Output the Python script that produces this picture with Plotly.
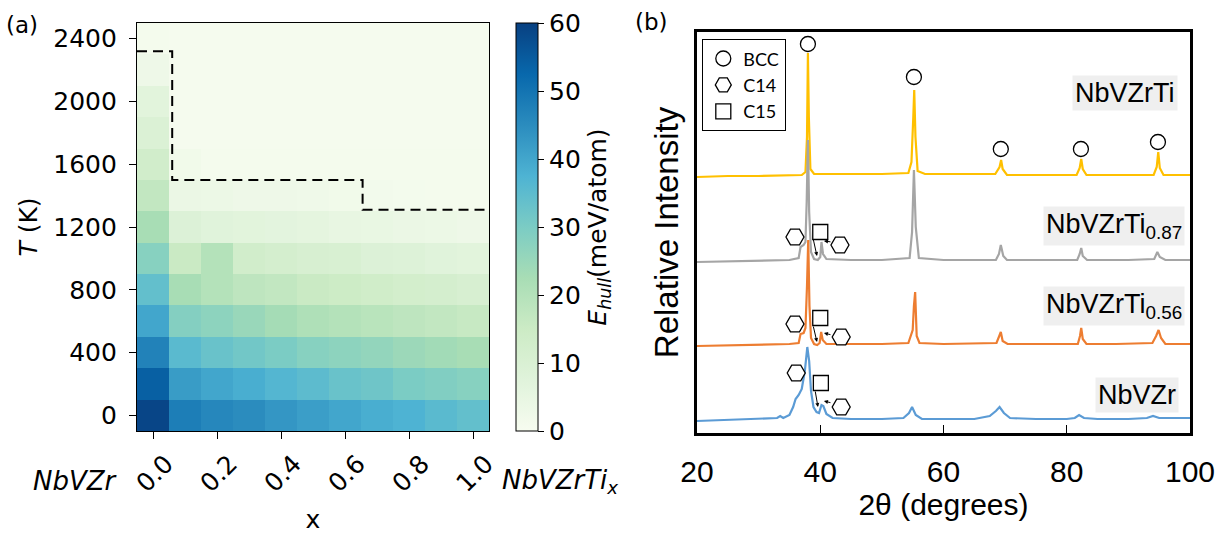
import plotly.graph_objects as go
import plotly.colors as pc

W, H = 1225, 534

# ---------------- Panel (a): E_hull heat map ----------------
x_frac = [0.0, 0.1, 0.2, 0.3, 0.4, 0.5, 0.6, 0.7, 0.8, 0.9, 1.0]
temps = [0, 200, 400, 600, 800, 1000, 1200, 1400, 1600, 1800, 2000, 2200, 2400]
ehull = [
    [59, 48, 46, 45, 43, 41.5, 40, 38.5, 37.5, 35.5, 34],
    [54, 42, 40, 38.5, 36.5, 35, 33, 32, 30, 29, 28],
    [47, 35.5, 33, 31.5, 30, 28, 27, 26, 24.5, 23.5, 22.5],
    [40, 28.5, 27, 25, 23, 21, 20, 19, 18, 17, 16],
    [34, 22.5, 20, 18, 17, 15.5, 14.5, 13.5, 12.5, 12, 11],
    [28, 15.5, 20, 13, 12, 11, 10.5, 9, 8.5, 7.5, 7],
    [22.5, 9, 7.5, 7, 6.5, 6, 5, 4.5, 4, 3.5, 3],
    [17, 4, 3.5, 3, 3, 2.5, 2, 1.5, 1.2, 1, 1],
    [13, 2, 1, 1, 1, 1, 1, 0.9, 0.9, 0.9, 0.9],
    [9.5, 0.8, 0.8, 0.8, 0.8, 0.8, 0.8, 0.8, 0.8, 0.8, 0.8],
    [7, 0.8, 0.8, 0.8, 0.8, 0.8, 0.8, 0.8, 0.8, 0.8, 0.8],
    [3, 0.7, 0.7, 0.7, 0.7, 0.7, 0.7, 0.7, 0.7, 0.7, 0.7],
    [1, 0.6, 0.6, 0.6, 0.6, 0.6, 0.6, 0.6, 0.6, 0.6, 0.6],
]
boundary_x = [-0.05, 0.06, 0.06, 0.655, 0.655, 1.05]
boundary_T = [2320, 2320, 1500, 1500, 1310, 1310]
x_ticks = [0.0, 0.2, 0.4, 0.6, 0.8, 1.0]
x_ticktext = ["0.0", "0.2", "0.4", "0.6", "0.8", "1.0"]
T_ticks = [0, 400, 800, 1200, 1600, 2000, 2400]
cbar_ticks = [0, 10, 20, 30, 40, 50, 60]

# ---------------- Panel (b): XRD patterns ----------------
tt_ti1 = [20, 25, 30, 35, 37.0, 37.6, 37.85, 38.0, 38.15, 38.4, 39.0, 45, 50, 54.3, 54.8, 55.1, 55.25,
          55.45, 55.8, 57, 62, 68.4, 69.1, 69.35, 69.6, 70.3, 75, 81.6, 82.1, 82.35, 82.6, 83.2, 88,
          94.1, 94.6, 94.85, 95.1, 95.7, 100]
I_ti1 = [0, 1, 1, 2, 2, 5, 40, 124, 60, 8, 3, 3, 3, 4, 15, 60, 87,
         40, 6, 3, 3, 3, 10, 17, 8, 2, 2, 2, 9, 18, 8, 2, 2,
         2, 10, 25, 9, 2, 2]

tt_ti087 = [20, 30, 35, 36.5, 36.8, 37.3, 37.6, 37.8, 38.0, 38.2, 38.5, 39.0, 39.6, 40.0, 40.2, 40.45,
            41, 45, 50, 54.5, 54.9, 55.2, 55.5, 56, 60, 68.5, 69.0, 69.3, 69.7, 70.3, 76, 81.7, 82.1,
            82.35, 82.6, 83.3, 90, 94.2, 94.7, 95.1, 96, 100]
I_ti087 = [0, 1, 2, 4, 15, 17, 20, 60, 122, 50, 10, 3, 2, 5, 20, 8,
           3, 2, 2, 4, 30, 92, 35, 4, 2, 2, 8, 17, 6, 2, 2, 2, 8,
           14, 6, 2, 2, 3, 10, 5, 2, 2]

tt_ti056 = [20, 30, 35, 36.5, 36.8, 37.3, 37.6, 37.85, 38.05, 38.25, 38.5, 39.0, 39.5, 39.9, 40.15,
            40.4, 41, 45, 50, 54.3, 54.8, 55.0, 55.2, 55.4, 55.65, 56.1, 60, 68.6, 69.05, 69.3, 69.6,
            70.4, 76, 81.8, 82.15, 82.35, 82.6, 83.2, 88, 93.9, 94.5, 94.9, 95.3, 96, 100]
I_ti056 = [0, 1, 2, 3, 12, 13, 18, 60, 106, 40, 8, 2, 1, 3, 14,
           6, 2, 2, 2, 3, 12, 16, 40, 54, 10, 3, 2, 3, 10, 14, 5,
           2, 2, 2, 10, 18, 7, 2, 2, 3, 10, 16, 8, 2, 2]

tt_ti0 = [20, 25, 30, 33.0, 33.5, 34.0, 35.0, 35.6, 36.0, 36.5, 37.0, 37.5, 37.9, 38.2, 38.5, 38.9,
          39.4, 39.8, 40.2, 40.5, 41.0, 42, 45, 50, 53.5, 54.4, 54.9, 55.5, 56.5, 60, 65, 67.5, 68.5,
          69.1, 69.8, 70.8, 75, 80, 81.3, 82.0, 82.8, 85, 90, 93, 94, 95, 97, 100]
I_ti0 = [0, 1, 2, 3, 5, 3, 6, 14, 22, 26, 32, 50, 74, 60, 30, 14,
         9, 8, 16, 15, 7, 3, 2, 2, 3, 8, 14, 6, 2, 2, 2, 5, 10,
         14, 8, 3, 2, 2, 3, 6, 3, 2, 2, 3, 5, 3, 3, 3]

samples = ["NbVZrTi", "NbVZrTi<sub>0.87</sub>", "NbVZrTi<sub>0.56</sub>", "NbVZr"]
offsets = [256, 171, 87, 12]
colors = ["#FFC000", "#A5A5A5", "#ED7D31", "#5B9BD5"]
patterns = [(tt_ti1, I_ti1), (tt_ti087, I_ti087), (tt_ti056, I_ti056), (tt_ti0, I_ti0)]

# phase identification markers (2theta, stacked intensity)
bcc_tt = [38.0, 55.2, 69.3, 82.3, 94.8]
bcc_I = [389, 356, 284, 284, 291]
c14_tt = [35.9, 43.2, 35.9, 43.4, 36.1, 43.4]
c14_I = [196, 188, 109, 96, 60, 26]
c15_tt = [40.0, 40.0, 40.1]
c15_I = [201, 115, 50]
# arrows: (tail 2theta, tail I, head 2theta, head I)
arrows = [
    (38.82, 195, 39.47, 177), (38.82, 108, 39.47, 91), (39.15, 43, 39.63, 26),
    (41.9, 191, 40.6, 192), (41.9, 98, 40.6, 100), (41.9, 30, 40.6, 32),
]


def px_x(p):
    return p / W


def px_y(p):
    return 1 - p / H


FA = "DejaVu Sans"
FB = "Liberation Sans"
SA = 25

fig = go.Figure()

fig.add_trace(go.Heatmap(
    x=x_frac, y=temps, z=ehull, zmin=0, zmax=60,
    colorscale=pc.sequential.GnBu, xaxis="x", yaxis="y", showscale=True,
    colorbar=dict(
        x=px_x(516), xanchor="left", y=px_y(227), yanchor="middle",
        len=(431 - 23) / H, lenmode="fraction", thickness=22, thicknessmode="pixels",
        outlinecolor="black", outlinewidth=1, xpad=0, ypad=0,
        tickvals=cbar_ticks, ticks="outside", ticklen=6, tickwidth=1.2, tickcolor="black",
        tickfont=dict(family=FA, size=SA, color="black"),
        title=dict(text="<i>E</i><sub><i>hull</i></sub>(meV/atom)", side="right",
                   font=dict(family=FA, size=SA, color="black")),
    ),
    showlegend=False,
))
fig.add_trace(go.Scatter(
    x=boundary_x, y=boundary_T, mode="lines", xaxis="x", yaxis="y",
    line=dict(color="black", width=2, dash="10px,6px"), showlegend=False,
))

for name, off, col, (tt, inten) in zip(samples, offsets, colors, patterns):
    fig.add_trace(go.Scatter(
        x=tt, y=[v + off for v in inten], mode="lines", xaxis="x2", yaxis="y2",
        line=dict(color=col, width=2.2), name=name, showlegend=False,
    ))

mk_line = dict(color="black", width=1.3)
fig.add_trace(go.Scatter(x=bcc_tt, y=bcc_I, mode="markers", xaxis="x2", yaxis="y2", name="BCC",
                         marker=dict(symbol="circle", size=15, color="white", line=mk_line)))
fig.add_trace(go.Scatter(x=c14_tt, y=c14_I, mode="markers", xaxis="x2", yaxis="y2", name="C14",
                         marker=dict(symbol="hexagon2", size=18, color="white", line=mk_line)))
fig.add_trace(go.Scatter(x=c15_tt, y=c15_I, mode="markers", xaxis="x2", yaxis="y2", name="C15",
                         marker=dict(symbol="square", size=15, color="white", line=mk_line)))

annotations = []
for (tx, ty, hx, hy) in arrows:
    annotations.append(dict(
        x=hx, y=hy, ax=tx, ay=ty, xref="x2", yref="y2", axref="x2", ayref="y2",
        showarrow=True, arrowhead=2, arrowsize=0.8, arrowwidth=1, arrowcolor="black", text="",
    ))

label_pos = [(1125, 93), (1114, 226), (1114, 306), (1137, 395)]
for name, (lx, ly) in zip(samples, label_pos):
    annotations.append(dict(
        x=px_x(lx), y=px_y(ly), xref="paper", yref="paper", text=name, showarrow=False,
        font=dict(family=FB, size=27, color="black"), bgcolor="#efefef", borderpad=2,
        xanchor="center", yanchor="middle",
    ))

annotations += [
    dict(x=px_x(22), y=px_y(25), xref="paper", yref="paper", text="(a)", showarrow=False,
         xanchor="center", yanchor="middle", font=dict(family=FA, size=23, color="black")),
    dict(x=px_x(651), y=px_y(22), xref="paper", yref="paper", text="(b)", showarrow=False,
         xanchor="center", yanchor="middle", font=dict(family=FA, size=23, color="black")),
    dict(x=px_x(75), y=px_y(481), xref="paper", yref="paper", text="<i>NbVZr</i>", showarrow=False,
         xanchor="center", yanchor="middle", font=dict(family=FA, size=26, color="black")),
    dict(x=px_x(560), y=px_y(481), xref="paper", yref="paper", text="<i>NbVZrTi<sub>x</sub></i>",
         xanchor="center", yanchor="middle", showarrow=False,
         font=dict(family=FA, size=26, color="black")),
]

fig.update_layout(
    width=W, height=H, margin=dict(l=0, r=0, t=0, b=0, autoexpand=False),
    paper_bgcolor="white", plot_bgcolor="white",
    xaxis=dict(domain=[px_x(137), px_x(489)], range=[-0.05, 1.05], tickvals=x_ticks, automargin=False,
               ticktext=x_ticktext, tickangle=-45, ticks="outside", ticklen=7, tickwidth=1.2,
               tickcolor="black", showline=True, linecolor="black", linewidth=1.2, mirror=True,
               showgrid=False, zeroline=False, ticklabelshift=13, ticklabelstandoff=0,
               tickfont=dict(family=FA, size=SA, color="black"),
               title=dict(text="x", font=dict(family=FA, size=SA, color="black"), standoff=20)),
    yaxis=dict(domain=[px_y(431), px_y(23)], range=[-100, 2500], tickvals=T_ticks, automargin=False,
               ticks="outside", ticklen=7, tickwidth=1.2, tickcolor="black", showline=True,
               linecolor="black", linewidth=1.2, mirror=True, showgrid=False, zeroline=False,
               tickfont=dict(family=FA, size=SA, color="black"), ticklabelstandoff=7,
               title=dict(text="<i>T</i> (K)", font=dict(family=FA, size=SA, color="black"),
                          standoff=8)),
    xaxis2=dict(domain=[px_x(697), px_x(1190)], range=[20, 100], tickvals=[20, 40, 60, 80, 100],
                anchor="y2", automargin=False,
                ticks="inside", ticklen=8, tickwidth=1.2, tickcolor="black", showline=True,
                linecolor="black", linewidth=3, mirror=True, showgrid=False, zeroline=False,
                tickfont=dict(family=FB, size=30, color="black"), ticklabelstandoff=10,
                title=dict(text="2θ (degrees)", font=dict(family=FB, size=30, color="black"),
                           standoff=6)),
    yaxis2=dict(domain=[px_y(433), px_y(32)], range=[0, 401], anchor="x2", showticklabels=False,
                automargin=False,
                ticks="", showline=True, linecolor="black", linewidth=3, mirror=True, showgrid=False,
                zeroline=False,
                title=dict(text="Relative Intensity", font=dict(family=FB, size=33, color="black"),
                           standoff=6)),
    legend=dict(x=px_x(702), y=px_y(39), xanchor="left", yanchor="top", bgcolor="white",
                bordercolor="black", borderwidth=1.3, font=dict(family="Lato", size=18, color="black"),
                itemwidth=30, tracegroupgap=0),
    annotations=annotations,
)

fig.write_html("out.html")
